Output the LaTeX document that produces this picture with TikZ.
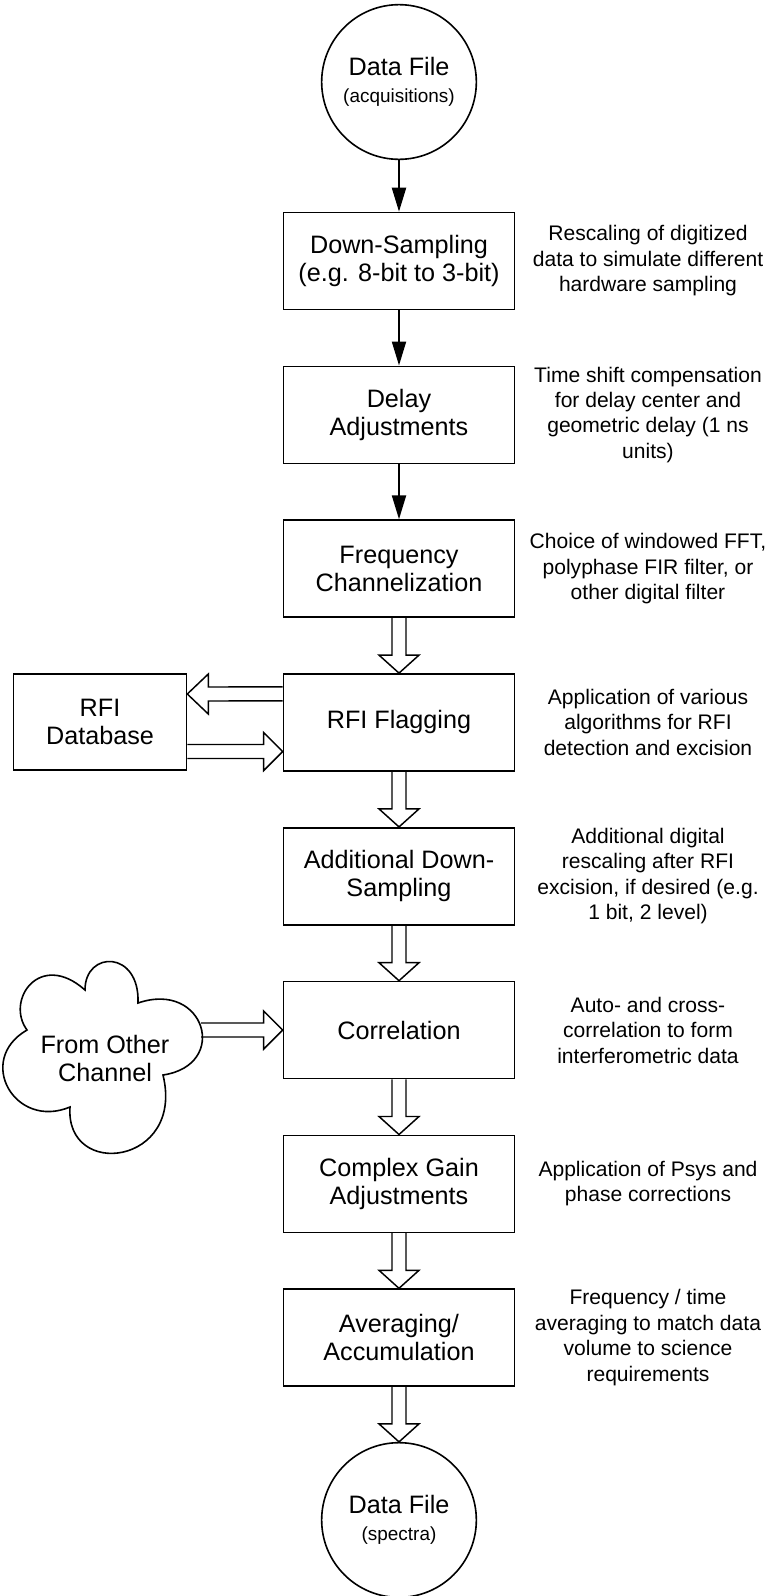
\documentclass[tikz,border=0pt]{standalone}
\usepackage{fontspec}
\setmainfont{Liberation Sans}
\usetikzlibrary{arrows.meta,calc}
\newcommand\hollowdown[2]{\draw[hollow] ($(#1.south)+(-7,0)$) -- ($(#2.north)+(-7,-18)$) -- ($(#2.north)+(-20,-18)$) -- (#2.north) -- ($(#2.north)+(20,-18)$) -- ($(#2.north)+(7,-18)$) -- ($(#1.south)+(7,0)$);}
\newcommand\hollowright[2]{\draw[hollow] ($(#1)+(0,-7)$) -- ($(#2)+(-19,-7)$) -- ($(#2)+(-19,-19)$) -- (#2) -- ($(#2)+(-19,19)$) -- ($(#2)+(-19,7)$) -- ($(#1)+(0,7)$);}
\newcommand\hollowleft[2]{\draw[hollow] ($(#1)+(0,-7)$) -- ($(#2)+(21,-7)$) -- ($(#2)+(21,-20)$) -- (#2) -- ($(#2)+(21,20)$) -- ($(#2)+(21,7)$) -- ($(#1)+(0,7)$);}
\begin{document}
\begin{tikzpicture}[x=0.75pt,y=-0.75pt,
  box/.style={draw, line width=1.2pt, rectangle, minimum width=173.25pt, minimum height=72.75pt, align=center, inner sep=0pt, font=\fontsize{18.9pt}{21pt}\selectfont},
  filecircle/.style={draw, line width=1.2pt, circle, minimum size=116pt, inner sep=0pt, align=center, font=\fontsize{18.9pt}{21pt}\selectfont},
  desc/.style={align=center, inner sep=0pt, font=\fontsize{15.8pt}{19.1pt}\selectfont},
  solidarrow/.style={line width=1.6pt, -{Triangle[width=10.5pt,length=18pt]}},
  hollow/.style={line width=1.1pt, line join=miter},
  cloudline/.style={line width=1.2pt}]
\useasboundingbox (0,0) rectangle (769,1596);

% main column
\node[filecircle] (in) at (399,82) {Data File\\[-1pt]{\fontsize{14.2pt}{17pt}\selectfont (acquisitions)}};
\node[box] (ds)   at (399,261)    {Down-Sampling\\(e.g. 8-bit to 3-bit)};
\node[box] (dly)  at (399,414.8)  {Delay\\Adjustments};
\node[box] (freq) at (399,568.6)  {Frequency\\Channelization};
\node[box] (flag) at (399,722.4)  {RFI Flagging};
\node[box] (ads)  at (399,876.2)  {Additional Down-\\Sampling};
\node[box] (corr) at (399,1030)   {Correlation};
\node[box] (cga)  at (399,1183.8) {Complex Gain\\Adjustments};
\node[box] (avg)  at (399,1337.6) {Averaging/\\Accumulation};
\node[filecircle] (out) at (399,1520) {Data File\\[-1pt]{\fontsize{14.2pt}{17pt}\selectfont (spectra)}};

% side items
\node[box, minimum width=129.75pt, minimum height=72pt] (db) at (100,722) {RFI\\Database};
\draw[cloudline] (27,1030) .. controls (5,1000) and (40,950) .. (85,990)
  .. controls (85,950) and (140,950) .. (138,1003)
  .. controls (205,980) and (230,1065) .. (163,1075)
  .. controls (185,1165) and (65,1180) .. (70,1107)
  .. controls (15,1130) and (-25,1060) .. (27,1030) -- cycle;
\node[align=center, font=\fontsize{18.9pt}{21pt}\selectfont] (cloud) at (105,1058) {From Other\\Channel};
\coordinate (cloudR) at (201,1030);

% descriptions
\node[desc] (d1) at (648,261)    {Rescaling of digitized\\data to simulate different\\hardware sampling};
\node[desc] (d2) at (648,414.8)  {Time shift compensation\\for delay center and\\geometric delay (1 ns\\units)};
\node[desc] (d3) at (648,568.6)  {Choice of windowed FFT,\\polyphase FIR filter, or\\other digital filter};
\node[desc] (d4) at (648,722.4)  {Application of various\\algorithms for RFI\\detection and excision};
\node[desc] (d5) at (648,876.2)  {Additional digital\\rescaling after RFI\\excision, if desired (e.g.\\1 bit, 2 level)};
\node[desc] (d6) at (648,1030)   {Auto- and cross-\\correlation to form\\interferometric data};
\node[desc] (d7) at (648,1183.8) {Application of Psys and\\phase corrections};
\node[desc] (d8) at (648,1337.6) {Frequency / time\\averaging to match data\\volume to science\\requirements};

% solid arrows
\draw[solidarrow] (in.south) -- (ds.north);
\draw[solidarrow] (ds.south) -- (dly.north);
\draw[solidarrow] (dly.south) -- (freq.north);

% hollow arrows
\hollowdown{freq}{flag}
\hollowdown{flag}{ads}
\hollowdown{ads}{corr}
\hollowdown{corr}{cga}
\hollowdown{cga}{avg}
\hollowdown{avg}{out}

\coordinate (fu) at ($(flag.west)+(0,-28.5)$);
\coordinate (du) at ($(db.east)+(0,-28)$);
\coordinate (dl) at ($(db.east)+(0,29.5)$);
\coordinate (fl) at ($(flag.west)+(0,29.1)$);
\hollowleft{fu}{du}
\hollowright{dl}{fl}
\hollowright{cloudR}{corr.west}
\end{tikzpicture}
\end{document}
